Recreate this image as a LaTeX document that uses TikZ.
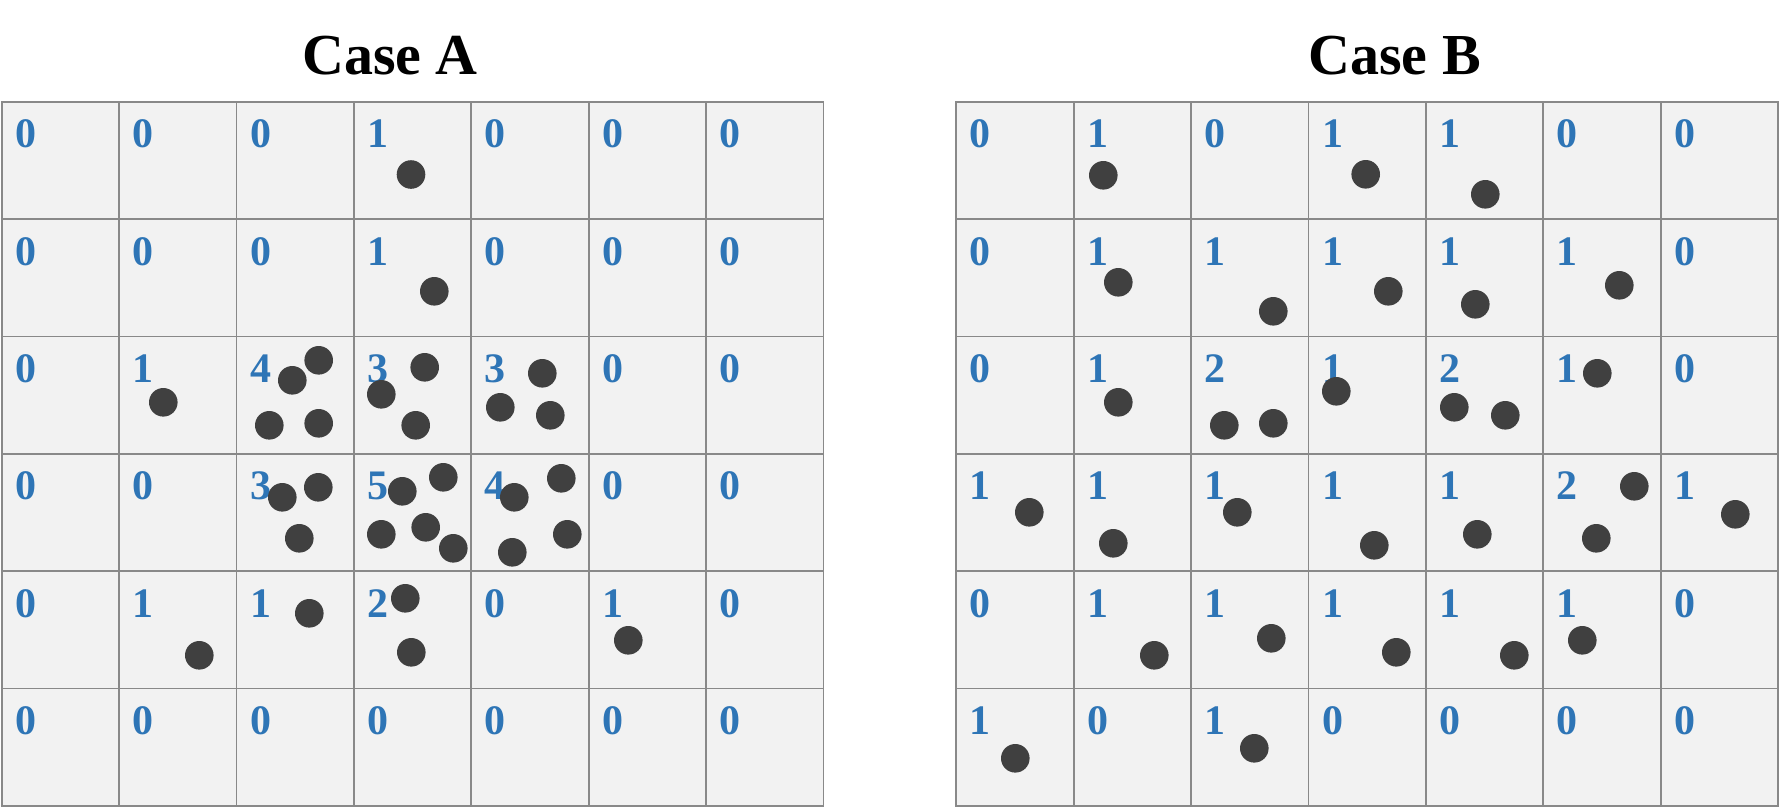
\documentclass[tikz,border=0pt]{standalone}
\usepackage{fontspec}
\setmainfont{Liberation Serif}
\definecolor{numblue}{HTML}{2E75B6}
\definecolor{dotgray}{HTML}{404040}
\definecolor{cellfill}{HTML}{F2F2F2}
\definecolor{gridgray}{HTML}{898989}
\begin{document}
\begin{tikzpicture}[x=1pt,y=-1pt,
  gridline/.style={draw=gridgray, line width=1.8pt},
  countlabel/.style={text=numblue, font=\fontsize{42}{42}\selectfont\bfseries, inner sep=0pt, anchor=base west},
  titlelabel/.style={font=\fontsize{58}{58}\selectfont\bfseries, inner sep=0pt, anchor=base},
  dot/.style={fill=dotgray}]
\useasboundingbox (0,0) rectangle (1781,809);
\def\cs{117.4}
\def\rs{117.35}
% titles
\node[titlelabel] (titleA) at (390,74) {Case A};
\node[titlelabel] (titleB) at (1394.5,74) {Case B};
% grid backgrounds and lines
\foreach \gx/\g in {1.7/A,956.3/B}{
  \fill[cellfill] (\gx,101.7) rectangle ++(7*\cs,6*\rs);
  \foreach \i in {0,...,7}{
    \draw[gridline] ({\gx+\i*\cs},101.7) -- ++(0,6*\rs);
  }
  \foreach \j in {0,...,6}{
    \draw[gridline] (\gx-0.9,{101.7+\j*\rs}) -- ++(7*\cs+1.8,0);
  }
}
% counts, grid A
\foreach \row [count=\r from 0] in {{0,0,0,1,0,0,0},{0,0,0,1,0,0,0},{0,1,4,3,3,0,0},{0,0,3,5,4,0,0},{0,1,1,2,0,1,0},{0,0,0,0,0,0,0}}{
  \foreach \v [count=\c from 0] in \row {
    \node[countlabel] (A-\r-\c) at ({1.7+\c*\cs+13.3},{101.7+\r*\rs+46}) {\v};
  }
}
% counts, grid B
\foreach \row [count=\r from 0] in {{0,1,0,1,1,0,0},{0,1,1,1,1,1,0},{0,1,2,1,2,1,0},{1,1,1,1,1,2,1},{0,1,1,1,1,1,0},{1,0,1,0,0,0,0}}{
  \foreach \v [count=\c from 0] in \row {
    \node[countlabel] (B-\r-\c) at ({956.3+\c*\cs+13.3},{101.7+\r*\rs+46}) {\v};
  }
}
% dots, grid A
\foreach \p in {(411,174.5),(434.3,291.3),(163.3,402.3),
  (318.7,360.3),(292.3,380.3),(269.3,425.3),(318.7,423.3),
  (381.3,394.3),(424.7,367.3),(415.7,425.3),
  (542.3,373.3),(500.3,407.3),(550.3,415.3),
  (282.3,497.3),(318.3,487.3),(299.3,538.3),
  (402.3,491.3),(443.3,477.3),(381.3,534.3),(425.7,527.3),(453.3,548.3),
  (514.3,497.3),(561.3,478.3),(567.3,534.3),(512.3,552.3),
  (199.3,655.3),(309.3,613.3),(405.3,598.3),(411.3,652.3),(628.3,640.3)}{
  \fill[dot] \p circle (14.3);
}
% dots, grid B
\foreach \p in {(1103.3,175.3),(1365.7,174.3),(1485.3,194.3),
  (1118.3,282.3),(1273.3,311.3),(1388.3,291.3),(1475.3,304.3),(1619.3,285.3),
  (1118.3,402.3),(1224.3,425.3),(1273.3,423.3),(1336.3,391.3),(1454.3,407.3),(1505.3,415.3),(1597.3,373.3),
  (1029.3,512.3),(1113.3,543.3),(1237.3,512.3),(1374.3,545.3),(1477.3,534.3),(1634.3,486.3),(1596.3,538.3),(1735.3,514.3),
  (1154.3,655.3),(1271.3,638.3),(1396.3,652.3),(1514.3,655.3),(1582.3,640.3),
  (1015.3,758.3),(1254.3,748.3)}{
  \fill[dot] \p circle (14.3);
}
\end{tikzpicture}
\end{document}
